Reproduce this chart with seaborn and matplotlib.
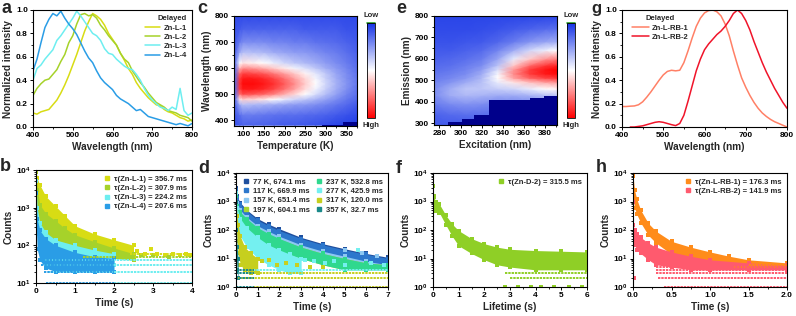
import matplotlib
matplotlib.use('Agg')
import numpy as np
import matplotlib.pyplot as plt
from matplotlib.colors import LinearSegmentedColormap
from matplotlib.lines import Line2D
from matplotlib.ticker import MultipleLocator, LogLocator, NullFormatter
import seaborn as sns

# ---------------- data ----------------
# a: delayed emission spectra
wl_a = [400, 410, 420, 430, 440, 450, 460, 470, 480, 490, 500, 510, 520, 530, 540, 550, 560, 570, 580, 590,
        600, 610, 620, 630, 640, 650, 660, 670, 680, 690, 700, 710, 720, 730, 740, 750, 760, 770, 780, 790, 800]
zn_l1 = [.12, .11, .13, .14, .15, .19, .23, .29, .36, .44, .53, .62, .72, .82, .90, .97, .95, .92, .87, .80,
         .75, .70, .63, .57, .50, .45, .38, .33, .29, .25, .22, .19, .18, .15, .13, .12, .10, .08, .07, .05, .06]
zn_l2 = [.27, .33, .37, .40, .41, .45, .49, .56, .62, .72, .78, .88, .96, .97, .95, .96, .93, .87, .83, .78,
         .74, .70, .63, .58, .55, .48, .43, .38, .34, .29, .25, .21, .19, .17, .14, .13, .12, .10, .09, .08, .05]
zn_l3 = [.40, .50, .53, .58, .62, .66, .74, .78, .83, .88, .93, .99, .95, .90, .85, .80, .78, .74, .67, .63,
         .62, .58, .55, .52, .50, .49, .45, .40, .33, .27, .23, .20, .17, .16, .14, .17, .15, .33, .14, .10, .12]
zn_l4 = [.48, .58, .72, .85, .92, .97, .95, .99, .93, .88, .84, .79, .72, .65, .59, .55, .48, .42, .38, .35,
         .32, .27, .24, .22, .20, .17, .14, .15, .12, .09, .08, .07, .06, .05, .04, .03, .02, .03, .02, .01, .03]
a_names = ['Zn-L-1', 'Zn-L-2', 'Zn-L-3', 'Zn-L-4']
a_colors = ['#d8dc14', '#a6d22a', '#6eeef0', '#2a9de6']

# g: delayed spectra of RB-doped samples
rb1 = [.175, .175, .178, .18, .19, .215, .255, .30, .35, .40, .445, .475, .485, .48, .485, .55, .65, .76, .86, .93,
       .975, .995, 1.0, .985, .95, .88, .78, .65, .53, .42, .34, .27, .21, .16, .12, .09, .065, .045, .03, .015, .0]
rb2 = [None, None, .0, .0, .005, .01, .02, .03, .04, .045, .04, .03, .02, .012, .03, .10, .22, .35, .48, .58,
       .66, .71, .75, .79, .82, .86, .91, .97, 1.0, .97, .91, .83, .73, .64, .55, .47, .40, .33, .27, .21, .16]
g_names = ['Zn-L-RB-1', 'Zn-L-RB-2']
g_colors = ['#ff8066', '#f0142a']

# c: temperature-dependent delayed emission map (0 = low, 1 = high)
temp_c = [80, 92, 100, 125, 150, 175, 200, 225, 250, 275, 300, 325, 350, 375]
wl_c = [380, 420, 460, 480, 500, 520, 540, 560, 580, 600, 620, 660, 700, 750, 800]
map_c = [
    [.08, .10, .12, .12, .12, .11, .10, .10, .09, .08, .07, .05, .04, .03],
    [.10, .15, .18, .18, .17, .16, .15, .15, .14, .13, .12, .10, .08, .06],
    [.12, .30, .35, .33, .32, .30, .28, .26, .25, .23, .20, .17, .14, .10],
    [.14, .55, .60, .58, .55, .50, .45, .40, .36, .32, .27, .22, .17, .13],
    [.15, .78, .85, .83, .80, .74, .66, .58, .50, .42, .34, .27, .20, .15],
    [.15, .88, .95, .95, .92, .86, .78, .68, .57, .47, .38, .30, .23, .16],
    [.15, .90, .98, .98, .95, .90, .82, .72, .60, .50, .40, .31, .24, .17],
    [.15, .88, .95, .95, .92, .86, .78, .68, .58, .48, .38, .30, .23, .17],
    [.15, .80, .87, .85, .82, .75, .68, .60, .52, .44, .36, .28, .22, .16],
    [.15, .65, .72, .70, .66, .60, .54, .47, .42, .36, .30, .25, .20, .15],
    [.15, .50, .55, .53, .50, .45, .40, .36, .33, .30, .26, .22, .18, .14],
    [.12, .30, .35, .34, .33, .30, .28, .26, .25, .23, .20, .18, .15, .12],
    [.10, .18, .22, .22, .22, .20, .20, .18, .18, .16, .15, .14, .12, .10],
    [.08, .10, .12, .12, .12, .12, .12, .12, .10, .10, .10, .10, .08, .08],
    [.06, .06, .06, .06, .06, .06, .06, .06, .06, .06, .06, .06, .06, .06],
]
c_dark_t = [290, 340, 376]
c_dark_top = [382, 391, 391]

# e: excitation-emission map
exc_e = [275, 290, 305, 320, 335, 350, 365, 380, 391]
em_e = [290, 340, 390, 430, 460, 490, 510, 530, 550, 570, 600, 640, 680, 740, 800]
map_e = [
    [.10, .10, .10, .10, .10, .10, .10, .10, .10],
    [.12, .14, .15, .15, .15, .15, .15, .15, .15],
    [.18, .22, .24, .23, .20, .20, .20, .22, .22],
    [.22, .30, .33, .32, .30, .30, .32, .35, .36],
    [.22, .30, .36, .36, .38, .40, .45, .50, .52],
    [.20, .24, .30, .35, .45, .55, .62, .68, .70],
    [.18, .21, .25, .33, .50, .68, .80, .86, .88],
    [.17, .19, .22, .30, .48, .73, .88, .95, .98],
    [.15, .17, .20, .26, .42, .70, .88, .96, 1.0],
    [.14, .15, .18, .22, .35, .60, .78, .88, .92],
    [.12, .13, .15, .18, .28, .45, .60, .70, .75],
    [.10, .10, .12, .14, .20, .30, .40, .46, .50],
    [.08, .08, .09, .10, .13, .18, .24, .28, .30],
    [.06, .06, .06, .07, .08, .10, .12, .14, .15],
    [.05, .05, .05, .05, .05, .05, .05, .05, .05],
]
e_dark_exc = [288, 301, 313, 327, 366, 379, 392]
e_dark_top = [305, 317, 336, 409, 415, 428, 428]

# b: decay curves (envelope of the point clouds), rows = discrete count levels
b_series = [
    dict(label='τ(Zn-L-1) = 356.7 ms', color='#d8dc14',
         t=[0, 0.03, 0.1, 0.25, 0.5, 0.75, 1.0, 1.5, 2.0, 2.5],
         hi=[10000, 6000, 4000, 2000, 1100, 600, 330, 200, 140, 100],
         lo=[3000, 1500, 700, 350, 200, 130, 95, 70, 55, 50],
         rows=[(60, 2.4, 4.0)],
         st=[2.6, 2.8, 2.95, 3.1, 3.3, 3.5, 3.7, 3.85, 3.95], sy=[70, 60, 80, 60, 55, 60, 55, 60, 55]),
    dict(label='τ(Zn-L-2) = 307.9 ms', color='#a6d22a',
         t=[0, 0.03, 0.1, 0.25, 0.5, 0.75, 1.0, 1.5, 2.0, 2.5],
         hi=[9000, 3000, 1200, 700, 450, 280, 190, 125, 85, 60],
         lo=[2000, 500, 250, 170, 130, 100, 75, 55, 45, 40],
         rows=[(50, 1.2, 4.0)], st=[2.7, 3.0, 3.4], sy=[55, 55, 50]),
    dict(label='τ(Zn-L-3) = 224.2 ms', color='#6eeef0',
         t=[0, 0.03, 0.1, 0.25, 0.5, 1.0, 1.5, 2.0],
         hi=[5000, 1000, 400, 220, 140, 100, 75, 60],
         lo=[1000, 200, 80, 45, 35, 30, 30, 30],
         rows=[(10, 2.0, 4.0), (20, 0.3, 4.0), (30, 0.2, 4.0), (40, 0.2, 4.0)], st=[], sy=[]),
    dict(label='τ(Zn-L-4) = 207.6 ms', color='#2a9de6',
         t=[0, 0.03, 0.1, 0.25, 0.5, 1.0, 1.5, 2.0],
         hi=[2500, 500, 250, 150, 100, 65, 50, 45],
         lo=[500, 80, 40, 25, 20, 20, 20, 20],
         rows=[(10, 0.25, 2.0), (20, 0.2, 2.0), (30, 0.12, 2.0), (40, 0.1, 2.0)], st=[], sy=[]),
]

# d: temperature-dependent decays
d_t = [0, 0.05, 0.2, 0.5, 1, 1.5, 2, 3, 4, 5, 6, 7]
d_series = [
    dict(label='77 K, 674.1 ms', color='#1f4f9e', t=d_t,
         hi=[3000, 1500, 900, 500, 250, 160, 110, 55, 33, 22, 15, 11],
         lo=[1000, 700, 450, 250, 120, 75, 50, 25, 14, 10, 7, 5], rows=[], st=[], sy=[]),
    dict(label='117 K, 669.9 ms', color='#2c77cc', t=d_t,
         hi=[2500, 1300, 800, 450, 220, 140, 95, 50, 30, 20, 14, 10],
         lo=[900, 600, 400, 220, 100, 65, 45, 22, 13, 9, 6, 5], rows=[], st=[], sy=[]),
    dict(label='157 K, 651.4 ms', color='#8cc8f2', t=d_t,
         hi=[2000, 900, 500, 280, 140, 90, 60, 30, 18, 12, 8, 6],
         lo=[600, 350, 200, 110, 55, 35, 24, 12, 7, 5, 4, 4], rows=[],
         st=[5.0, 5.8, 6.5], sy=[20, 15, 12]),
    dict(label='197 K, 604.1 ms', color='#a8d632', t=d_t,
         hi=[1500, 700, 400, 220, 110, 70, 48, 25, 15, 10, 7, 6],
         lo=[400, 250, 150, 80, 40, 25, 18, 10, 6, 4, 4, 4], rows=[], st=[], sy=[]),
    dict(label='237 K, 532.8 ms', color='#2fd88e', t=d_t,
         hi=[1500, 700, 420, 250, 120, 75, 50, 25, 15, 10, 7, 6],
         lo=[400, 250, 150, 80, 40, 26, 18, 10, 6, 4, 4, 4], rows=[], st=[], sy=[]),
    dict(label='277 K, 425.9 ms', color='#74f0f0',
         t=[0, 0.05, 0.2, 0.5, 1, 1.5, 2, 2.5, 3],
         hi=[2000, 600, 250, 120, 55, 30, 20, 14, 10],
         lo=[400, 150, 60, 25, 10, 6, 4, 3, 3], rows=[(4, 0.8, 7.0)],
         st=[3.2, 3.6, 4.1, 4.5, 5.0, 5.6, 6.2, 6.8], sy=[9, 8, 7, 8, 6, 20, 7, 6]),
    dict(label='317 K, 120.0 ms', color='#c6cf1e',
         t=[0, 0.05, 0.1, 0.2, 0.4, 0.7, 1.0],
         hi=[1000, 300, 150, 60, 25, 15, 10],
         lo=[200, 40, 15, 6, 4, 3, 3], rows=[(1, 0.8, 7.0), (2, 0.1, 7.0), (3, 0.3, 7.0)],
         st=[1.2, 1.5, 1.9, 2.3, 2.8, 3.4, 4.0], sy=[8, 9, 6, 7, 6, 5, 5]),
    dict(label='357 K, 32.7 ms', color='#1a8a8a',
         t=[0, 0.02, 0.05, 0.1], hi=[1000, 100, 25, 10], lo=[100, 10, 4, 2],
         rows=[(1, 0.0, 0.82), (2, 0.0, 0.82), (3, 0.0, 0.82), (4, 0.0, 0.82)], st=[], sy=[]),
]

# f: Zn-D-2 decay
f_series = [
    dict(label='τ(Zn-D-2) = 315.5 ms', color='#8fcf26',
         t=[0, 0.02, 0.05, 0.1, 0.25, 0.5, 0.75, 1, 1.5, 2, 2.5, 3, 4, 5, 6],
         hi=[3500, 1500, 1400, 1000, 800, 330, 160, 95, 50, 33, 25, 21, 19, 18, 17],
         lo=[1000, 500, 500, 450, 400, 150, 60, 28, 15, 9, 6, 5, 4, 4, 4],
         rows=[(3, 2.8, 6.0), (2, 3.0, 6.0)],
         st=[2.8, 3.3, 3.8, 4.2, 4.7, 5.3, 5.8], sy=[1, 1, 1, 1, 1, 1, 1]),
]

# h: RB-doped decays
h_series = [
    dict(label='τ(Zn-L-RB-1) = 176.3 ms', color='#ff8c1a',
         t=[0, 0.02, 0.05, 0.1, 0.2, 0.3, 0.5, 0.75, 1, 1.25, 1.5, 2],
         hi=[8000, 2500, 1200, 500, 170, 90, 40, 25, 17, 12, 9, 7],
         lo=[1500, 600, 350, 180, 65, 35, 14, 9, 7, 5, 5, 4],
         rows=[(5, 1.3, 2.0), (6, 1.5, 2.0)], st=[], sy=[]),
    dict(label='τ(Zn-L-RB-2) = 141.9 ms', color='#ff5a6e',
         t=[0, 0.02, 0.05, 0.1, 0.2, 0.3, 0.5, 0.75, 1.0, 1.5, 2.0],
         hi=[150, 100, 70, 55, 35, 25, 17, 12, 9, 7, 6],
         lo=[40, 30, 20, 15, 9, 6, 5, 4, 4, 4, 4],
         rows=[(5, 0.3, 2.0), (4, 0.3, 2.0), (3, 0.3, 2.0), (2, 0.32, 2.0), (1, 0.4, 2.0)],
         st=[0.0, 0.01], sy=[1000, 2]),
]

# ---------------- style ----------------
sns.set_style('ticks')
plt.rcParams['font.family'] = ['Liberation Sans', 'DejaVu Sans']
plt.rcParams['font.weight'] = 'bold'
plt.rcParams['axes.labelweight'] = 'bold'
plt.rcParams['mathtext.fontset'] = 'custom'
plt.rcParams['mathtext.rm'] = 'Liberation Sans:bold'
plt.rcParams['mathtext.it'] = 'Liberation Sans:bold'
plt.rcParams['mathtext.bf'] = 'Liberation Sans:bold'
plt.rcParams['axes.edgecolor'] = 'black'
plt.rcParams['axes.linewidth'] = 0.8
plt.rcParams['xtick.color'] = 'black'
plt.rcParams['ytick.color'] = 'black'
plt.rcParams['xtick.major.size'] = 2.2
plt.rcParams['ytick.major.size'] = 2.2
plt.rcParams['xtick.minor.size'] = 1.2
plt.rcParams['ytick.minor.size'] = 1.2
plt.rcParams['xtick.major.width'] = 0.7
plt.rcParams['ytick.major.width'] = 0.7
plt.rcParams['xtick.major.pad'] = 1.5
plt.rcParams['ytick.major.pad'] = 1.5
plt.rcParams['xtick.labelsize'] = 6
plt.rcParams['ytick.labelsize'] = 6
plt.rcParams['axes.labelsize'] = 7.2
plt.rcParams['axes.labelpad'] = 2

W, H = 796, 316
fig = plt.figure(figsize=(W / 100, H / 100), dpi=100)


def box(l, t, r, b):
    return [l / W, 1 - b / H, (r - l) / W, (b - t) / H]


def letter(x, y, s, size=13):
    fig.text(x / W, 1 - y / H, s, fontsize=size, fontweight='bold', va='baseline', ha='left')


cmap = LinearSegmentedColormap.from_list('lowhigh', [(0, '#1432e6'), (0.5, '#ffffff'), (1, '#ff0000')])


def spectrum_axis(ax):
    ax.set_xlim(400, 800)
    ax.set_ylim(0, 1.0)
    ax.xaxis.set_major_locator(MultipleLocator(100))
    ax.xaxis.set_minor_locator(MultipleLocator(50))
    ax.yaxis.set_major_locator(MultipleLocator(0.2))
    ax.yaxis.set_minor_locator(MultipleLocator(0.1))
    ax.set_xlabel('Wavelength (nm)')
    ax.set_ylabel('Normalized intensity')


def decay_axis(ax, series, xmax, xmaj, xmin, ymin, xlabel, ncol=1):
    for s in series:
        c = s['color']
        ax.fill_between(s['t'], s['lo'], s['hi'], color=c, lw=0)
        sns.scatterplot(x=s['t'] + s['t'], y=s['hi'] + s['lo'], color=c, s=5, marker='s',
                        linewidth=0, ax=ax, legend=False)
        for lev, t0, t1 in s['rows']:
            ax.hlines(lev, t0, t1, color=c, lw=1.4, linestyles=(0, (1.2, 0.5)))
        if s['st']:
            sns.scatterplot(x=s['st'], y=s['sy'], color=c, s=5, marker='s', linewidth=0,
                            ax=ax, legend=False)
    ax.set_yscale('log')
    ax.set_xlim(0, xmax)
    ax.set_ylim(ymin, 10000)
    ax.xaxis.set_major_locator(MultipleLocator(xmaj))
    ax.xaxis.set_minor_locator(MultipleLocator(xmin))
    ax.yaxis.set_major_locator(LogLocator(base=10))
    ax.yaxis.set_minor_locator(LogLocator(base=10, subs=(2, 3, 4, 5, 6, 7, 8, 9)))
    ax.yaxis.set_minor_formatter(NullFormatter())
    ax.set_xlabel(xlabel)
    ax.set_ylabel('Counts')
    handles = [Line2D([], [], marker='s', ls='', color=s['color'], markersize=2.2, label=s['label'])
               for s in series]
    ax.legend(handles=handles, loc='upper right', frameon=False, fontsize=5.5, handlelength=0.8,
              handletextpad=0.5, labelspacing=0.25, borderaxespad=0.3, ncol=ncol, columnspacing=0.8)


def colorbar_axis(cax):
    cb = fig.colorbar(plt.cm.ScalarMappable(cmap=cmap, norm=plt.Normalize(0, 1)), cax=cax)
    cax.invert_yaxis()
    cb.set_ticks([])
    cb.outline.set_linewidth(0.6)
    cax.plot([0, 1], [1, 1], transform=cax.transAxes, color='#2aa02a', lw=1.2, clip_on=False)
    cax.text(0.5, 1.04, 'Low', transform=cax.transAxes, ha='center', va='bottom', fontsize=5.5)
    cax.text(0.5, -0.04, 'High', transform=cax.transAxes, ha='center', va='top', fontsize=5.5)


# ---------------- a ----------------
ax = fig.add_axes(box(33, 10, 192, 127))
for name, vals, col in zip(a_names, [zn_l1, zn_l2, zn_l3, zn_l4], a_colors):
    sns.lineplot(x=wl_a, y=vals, color=col, lw=1.1, ax=ax, label=name)
spectrum_axis(ax)
ax.legend(title='Delayed', loc='upper right', frameon=False, fontsize=5.5, handlelength=2.0,
          handletextpad=0.4, labelspacing=0.25, borderaxespad=0.3, alignment='right',
          title_fontproperties={'weight': 'bold', 'size': 5.5})
letter(1, 13, 'a')

# ---------------- g ----------------
ax = fig.add_axes(box(622, 10, 787, 127))
sns.lineplot(x=wl_a, y=rb1, color=g_colors[0], lw=1.1, ax=ax, label=g_names[0])
sns.lineplot(x=wl_a, y=[np.nan if v is None else v for v in rb2], color=g_colors[1], lw=1.1, ax=ax,
             label=g_names[1])
spectrum_axis(ax)
ax.legend(title='Delayed', loc='upper left', bbox_to_anchor=(0.03, 1.0), frameon=False, fontsize=5.5,
          handlelength=2.2, handletextpad=0.4, labelspacing=0.25, borderaxespad=0.3,
          title_fontproperties={'weight': 'bold', 'size': 5.5})
letter(591, 13, 'g', size=12)

# ---------------- c ----------------
ax = fig.add_axes(box(234, 16, 357, 126))
ax.pcolormesh(temp_c, wl_c, np.array(map_c), shading='gouraud', cmap=cmap, vmin=0, vmax=1)
ax.fill_between(c_dark_t, 370, c_dark_top, step='post', color='#00008b', lw=0)
ax.set_xlim(78, 375)
ax.set_ylim(377, 800)
ax.xaxis.set_major_locator(MultipleLocator(50))
ax.xaxis.set_minor_locator(MultipleLocator(25))
ax.yaxis.set_major_locator(MultipleLocator(100))
ax.yaxis.set_minor_locator(MultipleLocator(50))
ax.set_xlabel('Temperature (K)')
ax.set_ylabel('Wavelength (nm)')
colorbar_axis(fig.add_axes(box(367, 23, 375, 118)))
letter(197, 13, 'c')

# ---------------- e ----------------
ax = fig.add_axes(box(434, 16, 557, 125))
ax.pcolormesh(exc_e, em_e, np.array(map_e), shading='gouraud', cmap=cmap, vmin=0, vmax=1)
ax.fill_between(e_dark_exc, 280, e_dark_top, step='post', color='#00008b', lw=0)
ax.set_xlim(275, 391)
ax.set_ylim(291, 800)
ax.xaxis.set_major_locator(MultipleLocator(20))
ax.xaxis.set_minor_locator(MultipleLocator(10))
ax.yaxis.set_major_locator(MultipleLocator(100))
ax.yaxis.set_minor_locator(MultipleLocator(50))
ax.set_xlabel('Excitation (nm)')
ax.set_ylabel('Emission (nm)')
colorbar_axis(fig.add_axes(box(567, 23, 575, 118)))
letter(396, 13, 'e')

# ---------------- b, d, f, h ----------------
ax = fig.add_axes(box(36, 170, 192, 283))
decay_axis(ax, b_series, 4, 1, 0.5, 10, 'Time (s)')
letter(0, 171, 'b')

ax = fig.add_axes(box(236, 173, 388, 287))
decay_axis(ax, d_series, 7, 1, 0.5, 1, 'Time (s)', ncol=2)
letter(198, 173, 'd')

ax = fig.add_axes(box(433, 173, 587, 287))
decay_axis(ax, f_series, 6, 1, 0.5, 1, 'Lifetime (s)')
letter(396, 173, 'f')

ax = fig.add_axes(box(633, 173, 787, 287))
decay_axis(ax, h_series, 2, 0.5, 0.25, 1, 'Time (s)')
letter(596, 172, 'h')

fig.savefig('out.png', dpi=100)
